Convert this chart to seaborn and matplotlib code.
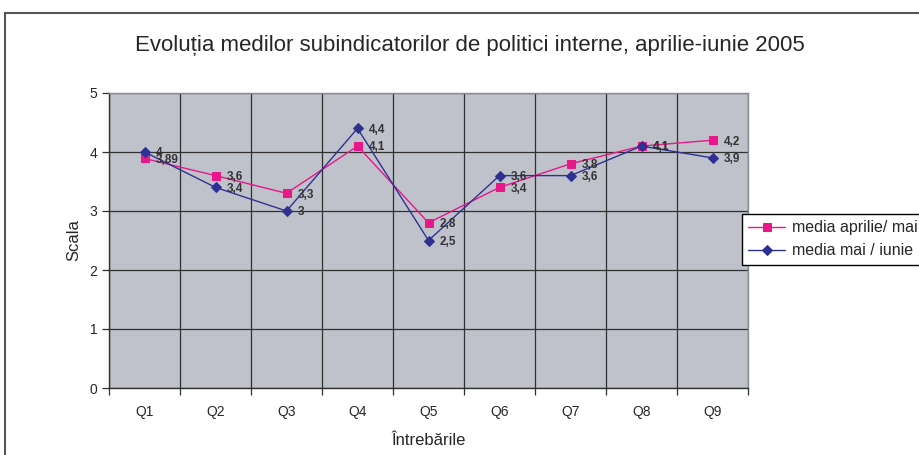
import numpy as np
import pandas as pd
import matplotlib
matplotlib.use("Agg")
import matplotlib.pyplot as plt
from matplotlib.patches import Rectangle
import seaborn as sns

# date
intrebari = ["Q1", "Q2", "Q3", "Q4", "Q5", "Q6", "Q7", "Q8", "Q9"]
media_aprilie_mai = [3.89, 3.6, 3.3, 4.1, 2.8, 3.4, 3.8, 4.1, 4.2]
media_mai_iunie = [4, 3.4, 3, 4.4, 2.5, 3.6, 3.6, 4.1, 3.9]
serii = ["media aprilie/ mai", "media mai / iunie"]
culori = ["#E8178A", "#2E3192"]
markere = ["s", "D"]

sns.set_style("white")
plt.rcParams["font.family"] = ["Liberation Sans", "DejaVu Sans"]

fig = plt.figure(figsize=(9.2, 4.55), dpi=100)
ax = fig.add_axes([109 / 920, 67 / 455, 639 / 920, 295 / 455])
ax.set_facecolor("#C0C2CB")

for nume, vals, c, m in zip(serii, [media_aprilie_mai, media_mai_iunie], culori, markere):
    df = pd.DataFrame({"q": intrebari, "v": vals})
    sns.lineplot(data=df, x="q", y="v", ax=ax, color=c, marker=m,
                 markersize=6 if m == "s" else 5, markeredgecolor=c,
                 linewidth=1, label=nume, legend=False)
    for i, v in enumerate(vals):
        txt = f"{v:g}".replace(".", ",")
        ax.annotate(txt, (i, v), xytext=(8, -1), textcoords="offset points",
                    ha="left", va="center", fontsize=8.5, fontweight="bold",
                    color="#333333")

ax.set_xlim(-0.5, len(intrebari) - 0.5)
ax.set_ylim(0, 5)
ax.set_yticks(range(6))
ax.set_xticks(range(len(intrebari)))
ax.set_xticklabels(intrebari)
ax.set_xticks(np.arange(-0.5, len(intrebari)), minor=True)
ax.grid(True, which="major", axis="y", color="#303030", linewidth=0.9)
ax.grid(True, which="minor", axis="x", color="#303030", linewidth=0.9)
ax.tick_params(axis="x", which="major", length=0, labelsize=10, pad=12)
ax.tick_params(axis="x", which="minor", length=5, width=0.9, color="#303030",
               direction="out", bottom=True)
ax.tick_params(axis="y", length=5, width=0.9, color="#303030", direction="out",
               left=True, labelsize=10)
for s in ["left", "bottom"]:
    ax.spines[s].set_color("#303030")
    ax.spines[s].set_linewidth(1)
for s in ["right", "top"]:
    ax.spines[s].set_color("#8A8C94")
    ax.spines[s].set_linewidth(1)

ax.set_xlabel("Întrebările", fontsize=12, labelpad=10)
ax.set_ylabel("Scala", fontsize=12, labelpad=6)
fig.text(470 / 920, 1 - 45 / 455,
         "Evoluția medilor subindicatorilor de politici interne, aprilie-iunie 2005",
         ha="center", va="center", fontsize=16)

leg = fig.legend(loc="upper left", bbox_to_anchor=(742 / 920, 1 - 214 / 455),
                 fontsize=11.5, frameon=True, fancybox=False, edgecolor="black",
                 framealpha=1, borderpad=0.4, handlelength=2.3,
                 labelspacing=0.5, borderaxespad=0, handletextpad=0.4)
leg.get_frame().set_linewidth(1)

fig.patches.append(Rectangle((5 / 920, -0.1), 1.0, 0.1 + 1 - 13 / 455,
                             transform=fig.transFigure, fill=False,
                             edgecolor="#555555", linewidth=1.5))

fig.savefig("out.png", dpi=100)
